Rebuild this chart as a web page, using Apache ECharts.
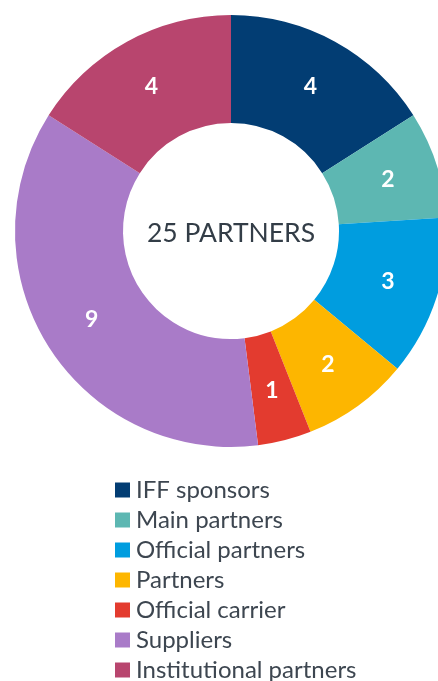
<!DOCTYPE html>
<html>
<head>
<meta charset="utf-8">
<script src="https://cdn.jsdelivr.net/npm/echarts@6/dist/echarts.min.js"></script>
<style>
html,body{margin:0;padding:0;background:#fff;}
#chart{width:438px;height:681px;}
</style>
</head>
<body>
<div id="chart"></div>
<script>
const categories = ["IFF sponsors","Main partners","Official partners","Partners","Official carrier","Suppliers","Institutional partners"];
const values = [4,2,3,2,1,9,4];
const colors = ["#023d73","#5db7b2","#009ddf","#fdb600","#e33b2f","#a97bc8","#b8456e"];
const centerText = "25 PARTNERS";

const chart = echarts.init(document.getElementById('chart'));
const font = 'Lato, "Noto Sans", sans-serif';
chart.setOption({
  animation: false,
  color: colors,
  legend: {
    orient: 'vertical',
    left: 115,
    top: 478,
    height: 400,
    padding: 0,
    itemWidth: 15,
    itemHeight: 15,
    itemGap: 6,
    icon: 'rect',
    data: categories,
    textStyle: { fontFamily: font, fontSize: 24, color: '#3d4650', lineHeight: 24, padding: [0,0,0,1] }
  },
  graphic: [{
    type: 'text',
    style: {
      text: centerText,
      x: 231, y: 233,
      textAlign: 'center',
      textVerticalAlign: 'middle',
      font: '26.5px ' + font,
      fill: '#333d47'
    }
  }],
  series: [{
    type: 'pie',
    center: [231, 231],
    radius: [108, 216],
    startAngle: 90,
    clockwise: true,
    avoidLabelOverlap: false,
    label: {
      position: 'inside',
      formatter: '{c}',
      color: '#fff',
      fontFamily: font,
      fontWeight: 'bold',
      fontSize: 23
    },
    labelLine: { show: false },
    emphasis: { disabled: true },
    data: categories.map((n, i) => ({ name: n, value: values[i] }))
  }]
});
</script>
</body>
</html>
